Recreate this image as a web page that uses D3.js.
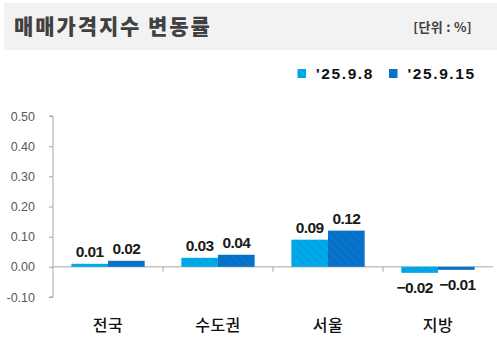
<!DOCTYPE html>
<html>
<head>
<meta charset="utf-8">
<script src="https://cdn.jsdelivr.net/npm/d3@7"></script>
<style>
  html, body { margin: 0; padding: 0; background: #fff; }
  svg { display: block; }
</style>
</head>
<body>
<script>
// Chart data
const title = "매매가격지수 변동률";
const unitLabel = "[단위 : %]";
const categories = ["전국", "수도권", "서울", "지방"];
const seriesNames = ["'25.9.8", "'25.9.15"];
const week1 = [0.01, 0.03, 0.09, -0.02];
const week2 = [0.02, 0.04, 0.12, -0.01];
const yTicks = [0.50, 0.40, 0.30, 0.20, 0.10, 0.00, -0.10];
const seriesColors = ["#00a5e4", "#0770c6"];

const W = 497, H = 337;
const svg = d3.select("body").append("svg").attr("width", W).attr("height", H);

// Diagonal stripe fills for the bars
const defs = svg.append("defs");
seriesColors.forEach((c, i) => {
  const p = defs.append("pattern")
    .attr("id", "hatch" + i)
    .attr("patternUnits", "userSpaceOnUse")
    .attr("width", 6).attr("height", 6)
    .attr("patternTransform", "rotate(-45)");
  p.append("rect").attr("width", 6).attr("height", 6).attr("fill", c);
  p.append("rect").attr("width", 1.2).attr("height", 6)
    .attr("fill", d3.color(c).brighter(0.35)).attr("opacity", 0.55);
});

// Title banner
svg.append("rect").attr("x", 4).attr("y", 3).attr("width", W - 4).attr("height", 47).attr("fill", "#f2f2f2");
svg.append("text").attr("x", 14).attr("y", 34)
  .attr("font-family", "'Noto Sans CJK KR', sans-serif").attr("font-weight", 900)
  .attr("font-size", 21).attr("fill", "#404040").attr("letter-spacing", 1.9).text(title);
svg.append("text").attr("x", 472).attr("y", 32).attr("text-anchor", "end")
  .attr("font-family", "'Noto Sans CJK KR', sans-serif").attr("font-weight", 700)
  .attr("font-size", 13).attr("fill", "#404040").attr("letter-spacing", 0.3).text(unitLabel);

// Scales
const x0 = d3.scaleBand().domain(categories).range([53, 493]).paddingInner(0).paddingOuter(0);
const x1 = d3.scaleBand().domain([0, 1]).range([0, x0.bandwidth()]).paddingInner(0).paddingOuter(0.5);
const y = d3.scaleLinear().domain([-0.10, 0.50]).range([297, 116]);

// Y axis
const yAxis = d3.axisLeft(y).tickValues(yTicks).tickSize(4).tickFormat(d3.format(".2f"));
const gy = svg.append("g").attr("transform", "translate(53,0)").call(yAxis);
gy.select(".domain").attr("stroke", "#a6a6a6").attr("d", `M-4,${y(0.5)}H0V${y(-0.1)}H-4`);
gy.selectAll(".tick line").attr("stroke", "#a6a6a6");
gy.selectAll(".tick text").attr("x", -18).attr("fill", "#595959")
  .attr("font-family", "'Liberation Sans', Arial, sans-serif").attr("font-size", 12.5)
  .text(d => d < 0 ? "-" + d3.format(".2f")(-d) : d3.format(".2f")(d));

// Zero baseline with category ticks
const gx = svg.append("g").attr("transform", `translate(0,${y(0)})`)
  .call(d3.axisBottom(x0).tickSize(0).tickFormat(""));
gx.select(".domain").attr("stroke", "#a6a6a6").attr("d", `M53,0H493`);
categories.slice(1).forEach(c => {
  gx.append("line").attr("x1", x0(c)).attr("x2", x0(c)).attr("y1", 0).attr("y2", 5).attr("stroke", "#a6a6a6");
});

// Bars
const series = [week1, week2];
const barData = [];
categories.forEach((c, ci) => series.forEach((s, si) => barData.push({ c, si, v: s[ci] })));

svg.append("g").selectAll("rect").data(barData).join("rect")
  .attr("x", d => x0(d.c) + x1(d.si))
  .attr("width", x1.bandwidth())
  .attr("y", d => y(Math.max(0, d.v)))
  .attr("height", d => Math.abs(y(d.v) - y(0)))
  .attr("fill", d => `url(#hatch${d.si})`);

// Value labels (negative pair spread apart slightly so they don't collide)
svg.append("g").selectAll("text").data(barData).join("text")
  .attr("x", d => x0(d.c) + x1(d.si) + x1.bandwidth() / 2 + (d.v < 0 ? (d.si === 0 ? -5 : 1) : 0))
  .attr("y", d => d.v >= 0 ? y(d.v) - 7 : y(d.v) + 20)
  .attr("text-anchor", "middle")
  .attr("font-family", "'Liberation Sans', Arial, sans-serif")
  .attr("font-weight", 700).attr("font-size", 15.5).attr("letter-spacing", -0.6).attr("fill", "#1a1a1a")
  .text(d => d.v < 0 ? "\u2212" + d3.format(".2f")(-d.v) : d3.format(".2f")(d.v));

// Category labels
svg.append("g").selectAll("text").data(categories).join("text")
  .attr("x", c => x0(c) + x0.bandwidth() / 2)
  .attr("y", 331)
  .attr("text-anchor", "middle")
  .attr("font-family", "'Noto Sans CJK KR', sans-serif").attr("font-weight", 500)
  .attr("font-size", 16).attr("fill", "#111").attr("letter-spacing", 0.5).text(c => c);

// Legend
const legendX = [297.5, 389];
const lg = svg.append("g").selectAll("g").data(seriesNames).join("g")
  .attr("transform", (d, i) => `translate(${legendX[i]},69)`);
lg.append("rect").attr("width", 8.5).attr("height", 9).attr("fill", (d, i) => `url(#hatch${i})`);
lg.append("text").attr("x", 18.5).attr("y", 10.3)
  .attr("font-family", "'Liberation Sans', Arial, sans-serif").attr("font-weight", 700)
  .attr("font-size", 15.5).attr("fill", "#111").attr("letter-spacing", 1.6).text(d => d);
</script>
</body>
</html>
